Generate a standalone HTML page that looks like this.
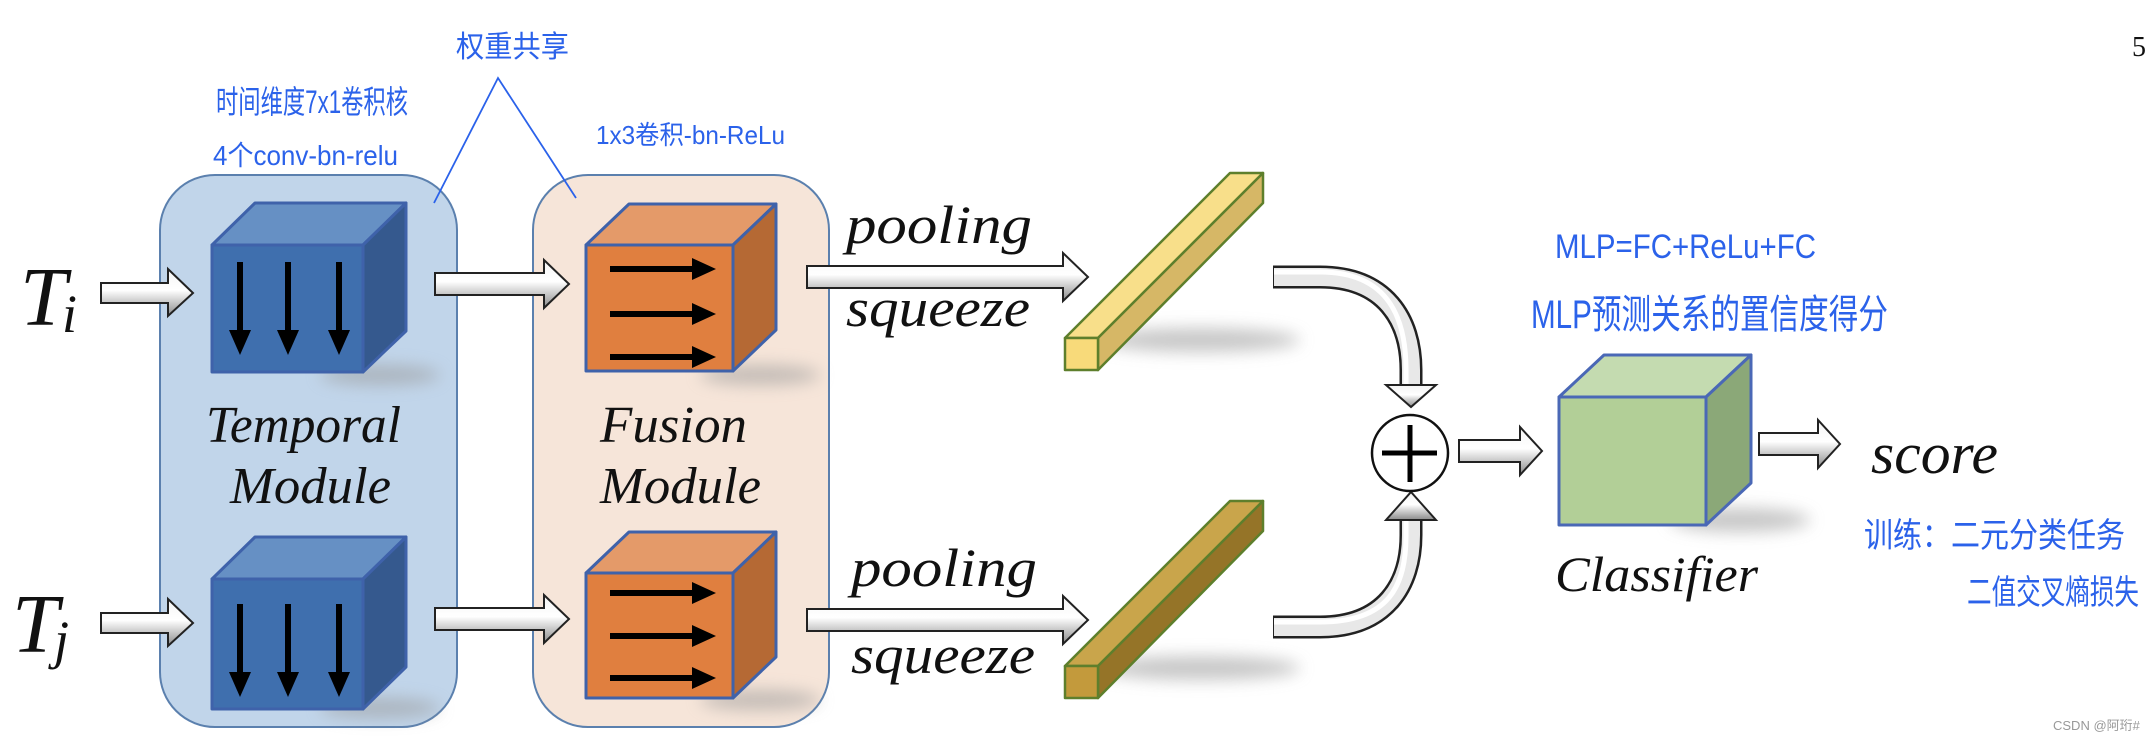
<!DOCTYPE html>
<html><head><meta charset="utf-8"><style>
html,body{margin:0;padding:0;background:#fff;}
svg{display:block;}
.hw{font-family:"Liberation Sans","Noto Sans CJK SC",sans-serif;fill:#2b62ea;}
.it{font-family:"Liberation Serif",serif;font-style:italic;fill:#111;}
</style></head><body>
<svg width="2151" height="741" viewBox="0 0 2151 741" xmlns="http://www.w3.org/2000/svg">
<defs>
<linearGradient id="ag" x1="0" y1="0" x2="0" y2="1">
<stop offset="0" stop-color="#f4f4f4"/><stop offset="0.45" stop-color="#ffffff"/><stop offset="1" stop-color="#8a8a8a"/>
</linearGradient>
<filter id="bl" x="-50%" y="-50%" width="200%" height="200%"><feGaussianBlur stdDeviation="8"/></filter>
</defs>

<!-- module boxes -->
<rect x="160" y="175" width="297" height="552" rx="55" fill="#c1d5ea" stroke="#5b80ae" stroke-width="2"/>
<rect x="533" y="175" width="296" height="552" rx="55" fill="#f6e5d9" stroke="#5b80ae" stroke-width="2"/>

<!-- shadows -->
<g filter="url(#bl)" fill="#9a9a9a" opacity="0.55">
<ellipse cx="380" cy="375" rx="60" ry="10"/>
<ellipse cx="760" cy="375" rx="60" ry="10"/>
<ellipse cx="380" cy="708" rx="60" ry="10"/>
<ellipse cx="760" cy="700" rx="60" ry="10"/>
<ellipse cx="1200" cy="340" rx="100" ry="12"/>
<ellipse cx="1200" cy="668" rx="100" ry="12"/>
<ellipse cx="1740" cy="520" rx="70" ry="12"/>
</g>

<!-- blue cubes -->
<g stroke="#3f62aa" stroke-width="3" stroke-linejoin="round">
<polygon points="212,245 255,203 406,203 363,245" fill="#6690c4"/>
<polygon points="363,245 406,203 406,331 363,372" fill="#35598e"/>
<rect x="212" y="245" width="151" height="127" fill="#3f6fae"/>
<polygon points="212,579 255,537 406,537 363,579" fill="#6690c4"/>
<polygon points="363,579 406,537 406,667 363,709" fill="#35598e"/>
<rect x="212" y="579" width="151" height="130" fill="#3f6fae"/>
</g>
<g stroke="#000" stroke-width="6">
<line x1="240" y1="262" x2="240" y2="335"/><line x1="288" y1="262" x2="288" y2="335"/><line x1="339" y1="262" x2="339" y2="335"/>
<line x1="240" y1="604" x2="240" y2="677"/><line x1="288" y1="604" x2="288" y2="677"/><line x1="339" y1="604" x2="339" y2="677"/>
</g>
<g fill="#000">
<polygon points="229,330 251,330 240,355"/><polygon points="277,330 299,330 288,355"/><polygon points="328,330 350,330 339,355"/>
<polygon points="229,672 251,672 240,697"/><polygon points="277,672 299,672 288,697"/><polygon points="328,672 350,672 339,697"/>
</g>

<!-- orange cubes -->
<g stroke="#3f62aa" stroke-width="3" stroke-linejoin="round">
<polygon points="586,245 629,204 776,204 733,245" fill="#e49a69"/>
<polygon points="733,245 776,204 776,330 733,371" fill="#b56934"/>
<rect x="586" y="245" width="147" height="126" fill="#e07f3f"/>
<polygon points="586,573 629,532 776,532 733,573" fill="#e49a69"/>
<polygon points="733,573 776,532 776,657 733,698" fill="#b56934"/>
<rect x="586" y="573" width="147" height="125" fill="#e07f3f"/>
</g>
<g stroke="#000" stroke-width="6">
<line x1="610" y1="269" x2="696" y2="269"/><line x1="610" y1="314" x2="696" y2="314"/><line x1="610" y1="357" x2="696" y2="357"/>
<line x1="610" y1="593" x2="696" y2="593"/><line x1="610" y1="636" x2="696" y2="636"/><line x1="610" y1="678" x2="696" y2="678"/>
</g>
<g fill="#000">
<polygon points="692,258 716,269 692,280"/><polygon points="692,303 716,314 692,325"/><polygon points="692,346 716,357 692,368"/>
<polygon points="692,582 716,593 692,604"/><polygon points="692,625 716,636 692,647"/><polygon points="692,667 716,678 692,689"/>
</g>

<!-- bars -->
<g stroke="#5e7f2c" stroke-width="2.5" stroke-linejoin="round">
<polygon points="1065,338 1098,338 1263,173 1230,173" fill="#f8df8a"/>
<polygon points="1098,338 1263,173 1263,203 1098,370" fill="#d6b766"/>
<rect x="1065" y="338" width="33" height="32" fill="#f8da7a"/>
<polygon points="1065,666 1098,666 1263,501 1230,501" fill="#c9a54b"/>
<polygon points="1098,666 1263,501 1263,531 1098,698" fill="#957428"/>
<rect x="1065" y="666" width="33" height="32" fill="#c39a3c"/>
</g>

<!-- green cube -->
<g stroke="#4a68b6" stroke-width="3" stroke-linejoin="round">
<polygon points="1559,397 1604,355 1751,355 1706,397" fill="#c4dbb0"/>
<polygon points="1706,397 1751,355 1751,483 1706,525" fill="#8ba878"/>
<rect x="1559" y="397" width="147" height="128" fill="#b2cf97"/>
</g>

<!-- straight block arrows -->
<g fill="url(#ag)" stroke="#222" stroke-width="2" stroke-linejoin="miter">
<polygon points="101,283 168,283 168,269 193,293 168,316 168,303 101,303"/>
<polygon points="101,613 168,613 168,599 193,623 168,646 168,633 101,633"/>
<polygon points="435,273 544,273 544,260 569,284 544,308 544,295 435,295"/>
<polygon points="435,608 544,608 544,595 569,619 544,643 544,630 435,630"/>
<polygon points="807,266 1063,266 1063,253 1088,277 1063,301 1063,288 807,288"/>
<polygon points="807,609 1063,609 1063,596 1088,620 1063,644 1063,631 807,631"/>
<polygon points="1459,440 1520,440 1520,427 1542,451 1520,475 1520,462 1459,462"/>
<polygon points="1759,433 1818,433 1818,420 1840,444 1818,468 1818,455 1759,455"/>
</g>

<!-- curved arrows -->
<g fill="none" stroke-linecap="butt">
<path d="M1273 277 H1320 C1385 277 1411 320 1411 370 V387" stroke="#222" stroke-width="23"/>
<path d="M1274 277 H1320 C1385 277 1411 320 1411 370 V388" stroke="#e8e8e8" stroke-width="18"/>
<path d="M1274 272 H1320 C1390 272 1406 320 1406 370 V388" stroke="#ffffff" stroke-width="5"/>
<path d="M1273 627 H1320 C1385 627 1411 585 1411 535 V518" stroke="#222" stroke-width="23"/>
<path d="M1274 627 H1320 C1385 627 1411 585 1411 535 V517" stroke="#e8e8e8" stroke-width="18"/>
<path d="M1274 622 H1320 C1390 622 1406 585 1406 535 V517" stroke="#ffffff" stroke-width="5"/>
</g>
<g fill="url(#ag)" stroke="#222" stroke-width="2">
<polygon points="1386,385 1436,385 1411,407"/>
<polygon points="1386,520 1436,520 1411,492"/>
</g>

<!-- circle plus -->
<circle cx="1410" cy="453" r="38" fill="#fff" stroke="#111" stroke-width="2.5"/>
<line x1="1410" y1="425" x2="1410" y2="482" stroke="#000" stroke-width="5"/>
<line x1="1382" y1="453" x2="1437" y2="453" stroke="#000" stroke-width="5"/>

<!-- italic labels -->
<text class="it" x="20" y="325" font-size="84">T</text><text class="it" x="62" y="332" font-size="54">i</text>
<text class="it" x="12" y="652" font-size="84">T</text><text class="it" x="54" y="658" font-size="54">j</text>
<text class="it" x="846" y="243" font-size="54" textLength="186" lengthAdjust="spacingAndGlyphs">pooling</text>
<text class="it" x="846" y="326" font-size="54" textLength="184" lengthAdjust="spacingAndGlyphs">squeeze</text>
<text class="it" x="851" y="586" font-size="54" textLength="186" lengthAdjust="spacingAndGlyphs">pooling</text>
<text class="it" x="851" y="673" font-size="54" textLength="184" lengthAdjust="spacingAndGlyphs">squeeze</text>
<text class="it" x="206" y="442" font-size="52" textLength="195" lengthAdjust="spacingAndGlyphs">Temporal</text>
<text class="it" x="230" y="503" font-size="52" textLength="161" lengthAdjust="spacingAndGlyphs">Module</text>
<text class="it" x="600" y="442" font-size="52" textLength="147" lengthAdjust="spacingAndGlyphs">Fusion</text>
<text class="it" x="600" y="503" font-size="52" textLength="161" lengthAdjust="spacingAndGlyphs">Module</text>
<text class="it" x="1871" y="473" font-size="58" textLength="127" lengthAdjust="spacingAndGlyphs">score</text>
<text class="it" x="1555" y="591" font-size="50" textLength="203" lengthAdjust="spacingAndGlyphs">Classifier</text>
<text x="2132" y="56" font-size="28" font-family="Liberation Serif, serif" fill="#111">5</text>

<!-- handwritten annotations -->
<polyline points="434,203 498,78 576,198" fill="none" stroke="#2b62ea" stroke-width="1.8"/>
<text class="hw" x="456" y="57" font-size="30" textLength="113" lengthAdjust="spacingAndGlyphs">权重共享</text>
<text class="hw" x="216" y="113" font-size="32" textLength="192" lengthAdjust="spacingAndGlyphs">时间维度7x1卷积核</text>
<text class="hw" x="213" y="165" font-size="28" textLength="185" lengthAdjust="spacingAndGlyphs">4个conv-bn-relu</text>
<text class="hw" x="596" y="144" font-size="26" textLength="189" lengthAdjust="spacingAndGlyphs">1x3卷积-bn-ReLu</text>
<text class="hw" x="1555" y="258" font-size="34" textLength="261" lengthAdjust="spacingAndGlyphs">MLP=FC+ReLu+FC</text>
<text class="hw" x="1531" y="328" font-size="40" textLength="357" lengthAdjust="spacingAndGlyphs">MLP预测关系的置信度得分</text>
<text class="hw" x="1864" y="547" font-size="34" textLength="261" lengthAdjust="spacingAndGlyphs">训练：二元分类任务</text>
<text class="hw" x="1967" y="604" font-size="34" textLength="172" lengthAdjust="spacingAndGlyphs">二值交叉熵损失</text>
<text x="2053" y="730" font-size="13" font-family="Liberation Sans, Noto Sans CJK SC, sans-serif" fill="#999">CSDN @阿珩#</text>
</svg>
</body></html>
